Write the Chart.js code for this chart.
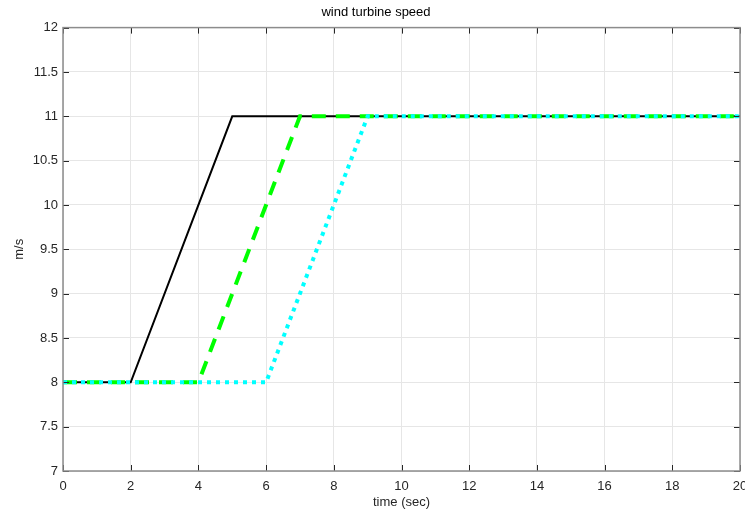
<!DOCTYPE html>
<html>
<head>
<meta charset="utf-8">
<script src="https://cdn.jsdelivr.net/npm/chart.js@4/dist/chart.umd.min.js"></script>
<style>
  html, body { margin: 0; padding: 0; background: #fff; }
  #wrap { width: 745px; height: 513px; }
</style>
</head>
<body>
<div id="wrap"><canvas id="chart"></canvas></div>
<script>
// data
const blackX = [0, 2, 5, 20];
const blackY = [8, 8, 11, 11];
const greenX = [0, 4, 7, 20];
const greenY = [8, 8, 11, 11];
const cyanX = [0, 6, 9, 20];
const cyanY = [8, 8, 11, 11];

const xTicks = [0, 2, 4, 6, 8, 10, 12, 14, 16, 18, 20];
const yTicks = [7, 7.5, 8, 8.5, 9, 9.5, 10, 10.5, 11, 11.5, 12];

const pts = (xs, ys) => xs.map((x, i) => ({ x: x, y: ys[i] }));

const font = { family: 'Liberation Sans, Arial, sans-serif', size: 13 };

// inward tick marks + box like matlab axes
const boxPlugin = {
  id: 'box',
  afterDatasetsDraw(chart) {
    const { ctx, chartArea: a, scales } = chart;
    ctx.save();
    ctx.strokeStyle = '#262626';
    ctx.lineWidth = 1;
    ctx.beginPath();
    xTicks.forEach(v => {
      const px = Math.round(scales.x.getPixelForValue(v)) + 0.5;
      ctx.moveTo(px, a.bottom); ctx.lineTo(px, a.bottom - 6);
      ctx.moveTo(px, a.top); ctx.lineTo(px, a.top + 6);
    });
    yTicks.forEach(v => {
      const py = Math.round(scales.y.getPixelForValue(v)) + 0.5;
      ctx.moveTo(a.left, py); ctx.lineTo(a.left + 6, py);
      ctx.moveTo(a.right, py); ctx.lineTo(a.right - 6, py);
    });
    ctx.stroke();
    ctx.strokeStyle = '#8c8c8c';
    ctx.lineWidth = 1.5;
    ctx.strokeRect(a.left, a.top, a.right - a.left, a.bottom - a.top);
    ctx.restore();
  }
};

new Chart(document.getElementById('chart'), {
  type: 'line',
  data: {
    datasets: [
      {
        data: pts(blackX, blackY),
        borderColor: '#000000',
        borderWidth: 2,
        pointRadius: 0,
        order: 3
      },
      {
        data: pts(greenX, greenY),
        borderColor: '#00ff00',
        borderWidth: 4,
        borderDash: [14, 10],
        pointRadius: 0,
        order: 2
      },
      {
        data: pts(cyanX, cyanY),
        borderColor: '#00ffff',
        borderWidth: 4,
        borderDash: [4, 5],
        pointRadius: 0,
        order: 1
      }
    ]
  },
  options: {
    responsive: true,
    maintainAspectRatio: false,
    animation: false,
    layout: { padding: { left: 12, right: 5, top: 0, bottom: 2 } },
    plugins: {
      legend: { display: false },
      tooltip: { enabled: false },
      title: {
        display: true,
        text: 'wind turbine speed',
        color: '#000',
        font: { family: font.family, size: 13, weight: 'normal' },
        padding: { top: 5, bottom: 7 }
      }
    },
    scales: {
      x: {
        type: 'linear',
        min: 0,
        max: 20,
        afterBuildTicks: s => { s.ticks = xTicks.map(v => ({ value: v })); },
        afterFit: s => { s.paddingRight = 0; s.paddingLeft = 0; s.height = 40; },
        ticks: { color: '#262626', font: font, padding: 8, maxRotation: 0, callback: v => String(v) },
        grid: { color: '#e6e6e6', drawTicks: false },
        border: { display: false },
        title: { display: true, text: 'time (sec)', color: '#262626', font: font, padding: { top: 0, bottom: 1 } }
      },
      y: {
        type: 'linear',
        min: 7,
        max: 12,
        afterBuildTicks: s => { s.ticks = yTicks.map(v => ({ value: v })); },
        afterFit: s => { s.width = 51; },
        ticks: { color: '#262626', font: font, padding: 5, callback: v => String(v) },
        grid: { color: '#e6e6e6', drawTicks: false },
        border: { display: false },
        title: { display: true, text: 'm/s', color: '#262626', font: font, padding: 0 }
      }
    }
  },
  plugins: [boxPlugin]
});
</script>
</body>
</html>
